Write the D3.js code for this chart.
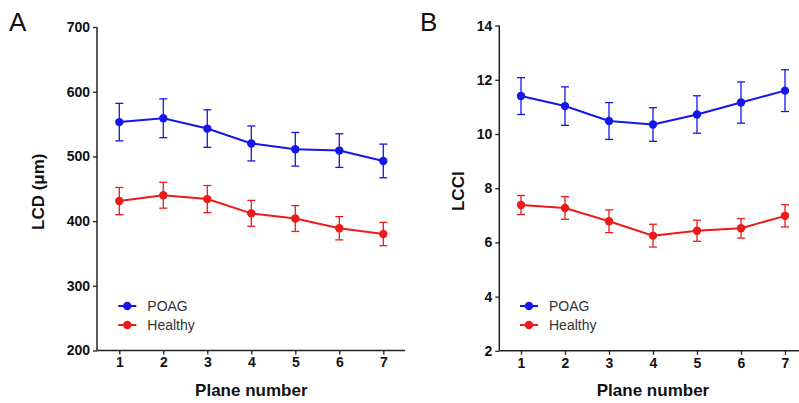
<!DOCTYPE html>
<html>
<head>
<meta charset="utf-8">
<script src="https://cdn.jsdelivr.net/npm/d3@7"></script>
<style>
  body { margin: 0; background: #fff; }
  text { font-family: "Liberation Sans", Arial, sans-serif; }
</style>
</head>
<body>
<svg id="chart" width="799" height="403"></svg>
<script>
const planes = [1, 2, 3, 4, 5, 6, 7];
const seriesNames = ['POAG', 'Healthy'];

// panel A: LCD (um)
const lcdPoag = [553, 559, 543, 520, 511, 509, 493];
const lcdPoagErr = [29, 30, 29, 27, 26, 26, 26];
const lcdHealthy = [431, 440, 434, 412, 404, 389, 380];
const lcdHealthyErr = [21, 20, 21, 20, 20, 18, 18];
const lcdTicks = [200, 300, 400, 500, 600, 700];

// panel B: LCCI
const lcciPoag = [11.4, 11.03, 10.48, 10.35, 10.72, 11.16, 11.6];
const lcciPoagErr = [0.68, 0.71, 0.68, 0.62, 0.69, 0.76, 0.77];
const lcciHealthy = [7.38, 7.27, 6.78, 6.25, 6.43, 6.52, 6.98];
const lcciHealthyErr = [0.35, 0.42, 0.42, 0.42, 0.39, 0.36, 0.41];
const lcciTicks = [2, 4, 6, 8, 10, 12, 14];

const colors = ['#1515ee', '#ee1a1a'];
const svg = d3.select('#chart');

function panel(o) {
  const g = svg.append('g');
  const x = d3.scaleLinear().domain([1, 7]).range([o.x1, o.x7]);
  const y = d3.scaleLinear().domain(o.ydomain).range([o.ybottom, o.ytop]);

  // axes
  const yAxis = d3.axisLeft(y).tickValues(o.ticks).tickSize(4).tickPadding(3);
  const yg = g.append('g').attr('transform', `translate(${o.axisX},0)`).call(yAxis);
  const xAxis = d3.axisBottom(x).tickValues(planes).tickSize(4).tickPadding(3).tickFormat(d3.format('d'));
  const xg = g.append('g').attr('transform', `translate(0,${o.ybottom})`).call(xAxis);
  [yg, xg].forEach(a => {
    a.select('.domain').remove();
    a.selectAll('line').attr('stroke', '#222').attr('stroke-width', 1.3);
    a.selectAll('text').attr('fill', '#111').style('font-size', '14px').style('font-weight', 'bold');
  });
  g.append('line').attr('x1', o.axisX).attr('x2', o.axisX)
    .attr('y1', o.ytop).attr('y2', o.ybottom).attr('stroke', '#222').attr('stroke-width', 1.5);
  g.append('line').attr('x1', o.axisX).attr('x2', o.xend)
    .attr('y1', o.ybottom).attr('y2', o.ybottom).attr('stroke', '#222').attr('stroke-width', 1.5);

  // series
  o.series.forEach((s, i) => {
    const col = colors[i];
    const pts = planes.map((p, j) => ({ p: p, v: s.v[j], e: s.e[j] }));
    const eb = g.append('g').attr('stroke', col).attr('stroke-width', 1.3);
    pts.forEach(d => {
      const cx = x(d.p);
      eb.append('line').attr('x1', cx).attr('x2', cx).attr('y1', y(d.v - d.e)).attr('y2', y(d.v + d.e));
      eb.append('line').attr('x1', cx - 4).attr('x2', cx + 4).attr('y1', y(d.v + d.e)).attr('y2', y(d.v + d.e));
      eb.append('line').attr('x1', cx - 4).attr('x2', cx + 4).attr('y1', y(d.v - d.e)).attr('y2', y(d.v - d.e));
    });
    g.append('path').datum(pts)
      .attr('fill', 'none').attr('stroke', col).attr('stroke-width', 2)
      .attr('d', d3.line().x(d => x(d.p)).y(d => y(d.v)));
    g.selectAll(null).data(pts).enter().append('circle')
      .attr('cx', d => x(d.p)).attr('cy', d => y(d.v)).attr('r', 4.2).attr('fill', col);
  });

  // legend
  seriesNames.forEach((n, i) => {
    const ly = o.legendY + i * 19;
    g.append('line').attr('x1', o.x1 - 1).attr('x2', o.x1 + 17).attr('y1', ly).attr('y2', ly)
      .attr('stroke', colors[i]).attr('stroke-width', 2);
    g.append('circle').attr('cx', o.x1 + 8).attr('cy', ly).attr('r', 4.2).attr('fill', colors[i]);
    g.append('text').attr('x', o.x1 + 28).attr('y', ly + 5).text(n)
      .style('font-size', '14px').attr('fill', '#333');
  });

  // titles
  g.append('text').attr('transform', `translate(${o.ylabelX},${(o.ytop + o.ybottom) / 2 + 3}) rotate(-90)`)
    .attr('text-anchor', 'middle').style('font-size', '17px').style('font-weight', 'bold')
    .attr('fill', '#111').text(o.ylabel);
  g.append('text').attr('x', (o.x1 + o.x7) / 2).attr('y', 396)
    .attr('text-anchor', 'middle').style('font-size', '17px').style('font-weight', 'bold')
    .attr('fill', '#111').text('Plane number');
  g.append('text').attr('x', o.letterX).attr('y', 31).style('font-size', '26px')
    .attr('fill', '#111').text(o.letter);
}

panel({
  letter: 'A', letterX: 9, axisX: 97, x1: 119.3, x7: 383.3, xend: 405,
  ytop: 27, ybottom: 350.5, ydomain: [200, 700], ticks: lcdTicks,
  ylabel: 'LCD (\u03bcm)', ylabelX: 44, legendY: 306,
  series: [{ v: lcdPoag, e: lcdPoagErr }, { v: lcdHealthy, e: lcdHealthyErr }]
});

panel({
  letter: 'B', letterX: 420, axisX: 499.3, x1: 521, x7: 785, xend: 799,
  ytop: 25.6, ybottom: 350.8, ydomain: [2, 14], ticks: lcciTicks,
  ylabel: 'LCCI', ylabelX: 464, legendY: 306,
  series: [{ v: lcciPoag, e: lcciPoagErr }, { v: lcciHealthy, e: lcciHealthyErr }]
});
</script>
</body>
</html>
